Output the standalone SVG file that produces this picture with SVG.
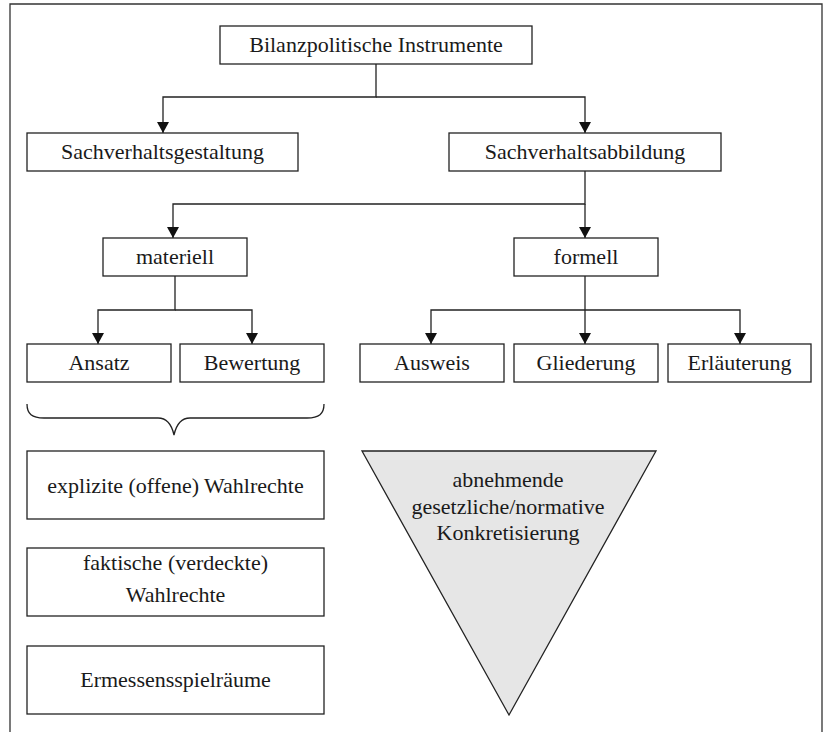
<svg xmlns="http://www.w3.org/2000/svg" width="828" height="732" viewBox="0 0 828 732">
<style>
.box{fill:#fff;stroke:#222;stroke-width:1.3}
.t{font-family:'Liberation Serif','DejaVu Serif',serif;font-size:22px;fill:#1a1a1a;text-anchor:middle}
.c{fill:none;stroke:#222;stroke-width:1.3}
</style>
<defs>
<marker id="ah" viewBox="0 0 11 12" refX="11" refY="6" markerWidth="11" markerHeight="12" markerUnits="userSpaceOnUse" orient="auto">
<path d="M0,0 L11,6 L0,12 Z" fill="#111"/>
</marker>
</defs>
<rect width="828" height="732" fill="#fff"/>
<path id="frame" d="M10,740 L10,4 L822,4 L822,740" fill="none" stroke="#333" stroke-width="1.3"/>
<g id="connectors">
<path class="c" d="M376,64 V97 H163 V133" marker-end="url(#ah)"/>
<path class="c" d="M376,97 H585 V133" marker-end="url(#ah)"/>
<path class="c" d="M585,171 V204 H173 V238" marker-end="url(#ah)"/>
<path class="c" d="M585,204 V238" marker-end="url(#ah)"/>
<path class="c" d="M175,276 V310 H98 V344" marker-end="url(#ah)"/>
<path class="c" d="M175,310 H252 V344" marker-end="url(#ah)"/>
<path class="c" d="M585,276 V344" marker-end="url(#ah)"/>
<path class="c" d="M585,310 H431 V344" marker-end="url(#ah)"/>
<path class="c" d="M585,310 H740 V344" marker-end="url(#ah)"/>
</g>
<g font-family="Liberation Serif, DejaVu Serif, serif">
<g id="n-top"><rect class="box" x="220" y="26" width="312" height="38"/><text class="t" x="376" y="52">Bilanzpolitische Instrumente</text></g>
<g id="n-gestaltung"><rect class="box" x="27" y="133" width="271" height="38"/><text class="t" x="162.5" y="159">Sachverhaltsgestaltung</text></g>
<g id="n-abbildung"><rect class="box" x="449" y="133" width="272" height="38"/><text class="t" x="585" y="159">Sachverhaltsabbildung</text></g>
<g id="n-materiell"><rect class="box" x="103" y="238" width="144" height="38"/><text class="t" x="175" y="264">materiell</text></g>
<g id="n-formell"><rect class="box" x="514" y="238" width="144" height="38"/><text class="t" x="586" y="264">formell</text></g>
<g id="n-ansatz"><rect class="box" x="27" y="344" width="144" height="38"/><text class="t" x="99" y="370">Ansatz</text></g>
<g id="n-bewertung"><rect class="box" x="180" y="344" width="144" height="38"/><text class="t" x="252" y="370">Bewertung</text></g>
<g id="n-ausweis"><rect class="box" x="360" y="344" width="144" height="38"/><text class="t" x="432" y="370">Ausweis</text></g>
<g id="n-gliederung"><rect class="box" x="514" y="344" width="144" height="38"/><text class="t" x="586" y="370">Gliederung</text></g>
<g id="n-erlaeuterung"><rect class="box" x="668" y="344" width="143" height="38"/><text class="t" x="739.5" y="370">Erläuterung</text></g>
<g id="brace"><path d="M27,404 C27,414 32,418 44,418 H158 C168,418 172,426 174,435 C176,426 180,418 190,418 H307 C319,418 324,414 324,404" fill="none" stroke="#222" stroke-width="1.3"/></g>
<g id="n-explizit"><rect class="box" x="27" y="451" width="297" height="68"/><text class="t" x="175.5" y="493">explizite (offene) Wahlrechte</text></g>
<g id="n-faktisch"><rect class="box" x="27" y="548" width="297" height="68"/><text class="t" x="175.5" y="570">faktische (verdeckte)</text><text class="t" x="175.5" y="602">Wahlrechte</text></g>
<g id="n-ermessen"><rect class="box" x="27" y="646" width="297" height="68"/><text class="t" x="175.5" y="687">Ermessensspielräume</text></g>
<g id="triangle"><path d="M362,451 L656,451 L509,715 Z" fill="#e6e6e6" stroke="#222" stroke-width="1.3"/>
<text class="t" x="508" y="487">abnehmende</text><text class="t" x="508" y="514">gesetzliche/normative</text><text class="t" x="508" y="540">Konkretisierung</text></g>
</g>
</svg>
